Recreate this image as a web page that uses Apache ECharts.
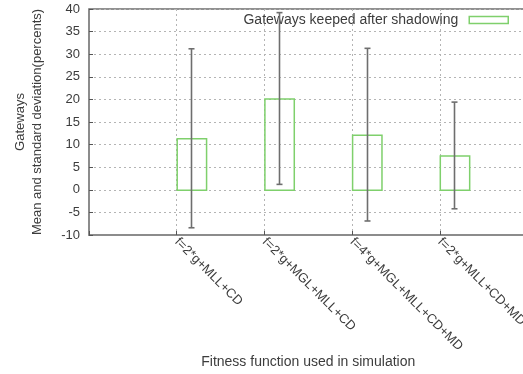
<!DOCTYPE html>
<html>
<head>
<meta charset="utf-8">
<script src="https://cdn.jsdelivr.net/npm/echarts@6/dist/echarts.min.js"></script>
<style>
html,body{margin:0;padding:0;background:#fff;}
#chart{width:523px;height:374px;}
</style>
</head>
<body>
<div id="chart"></div>
<script>
var categories = ['f=2*g+MLL+CD', 'f=2*g+MGL+MLL+CD', 'f=4*g+MGL+MLL+CD+MD', 'f=2*g+MLL+CD+MD'];
var means = [11.4, 20.2, 12.2, 7.6];
var stdDevs = [19.8, 19.0, 19.1, 11.8];
var yTicks = [-10, -5, 0, 5, 10, 15, 20, 25, 30, 35, 40];
var seriesName = 'Gateways keeped after shadowing';

var FONT = 'Liberation Sans';
var TXT = '#3c3c3c';
var GREEN = '#7fd06c';
var BOXW = 0.335;

var barData = categories.map(function (c, i) { return [i + 1, means[i]]; });
var errData = categories.map(function (c, i) { return [i + 1, means[i] - stdDevs[i], means[i] + stdDevs[i]]; });

var chart = echarts.init(document.getElementById('chart'), null, {renderer: 'canvas'});
chart.setOption({
  animation: false,
  backgroundColor: '#fff',
  textStyle: {fontFamily: FONT},
  grid: {left: 89, right: -4.5, top: 9, bottom: 139, show: true, borderColor: '#222', borderWidth: 1,
         containLabel: false, outerBoundsMode: 'none'},
  legend: {
    right: 14, top: 13, padding: 0, align: 'right', itemWidth: 39, itemHeight: 7,
    textStyle: {fontFamily: FONT, fontSize: 14, color: TXT, padding: [0, 6, 0, 0]},
    data: [{name: seriesName, icon: 'rect', itemStyle: {color: 'rgba(0,0,0,0)', borderColor: GREEN, borderWidth: 1.5}}]
  },
  xAxis: {
    type: 'value', min: 0, max: 5, interval: 1,
    name: 'Fitness function used in simulation', nameLocation: 'middle', nameGap: 120, nameMoveOverlap: false,
    nameTextStyle: {fontFamily: FONT, fontSize: 14, color: TXT},
    axisLine: {show: true, onZero: false, lineStyle: {color: '#8c8c8c', width: 2}},
    axisTick: {show: true, inside: true, length: 4, lineStyle: {color: '#555'}},
    splitLine: {show: true, lineStyle: {color: '#b4b4b4', type: [2, 3], width: 1}},
    axisLabel: {
      rotate: -45, margin: 5, fontFamily: FONT, fontSize: 13, color: TXT, hideOverlap: false,
      formatter: function (v) { return categories[v - 1] || ''; }
    }
  },
  yAxis: {
    type: 'value', min: yTicks[0], max: yTicks[yTicks.length - 1], interval: yTicks[1] - yTicks[0],
    name: 'Gateways\nMean and standard deviation(percents)', nameLocation: 'middle', nameGap: 43, nameRotate: 90,
    nameMoveOverlap: false,
    nameTextStyle: {fontFamily: FONT, fontSize: 13, color: TXT, lineHeight: 17, align: 'center'},
    axisLine: {show: true, lineStyle: {color: '#8c8c8c', width: 2}},
    axisTick: {show: true, inside: true, length: 4, lineStyle: {color: '#555'}},
    splitLine: {show: true, lineStyle: {color: '#b4b4b4', type: [2, 3], width: 1}},
    axisLabel: {margin: 9, fontFamily: FONT, fontSize: 13, color: TXT}
  },
  series: [
    {
      name: seriesName, type: 'custom', data: barData, z: 3,
      itemStyle: {color: 'rgba(0,0,0,0)', borderColor: GREEN},
      encode: {x: 0, y: 1},
      renderItem: function (params, api) {
        var x = api.value(0), v = api.value(1);
        var p0 = api.coord([x, 0]);
        var p1 = api.coord([x + BOXW, v]);
        return {
          type: 'rect',
          shape: {x: p0[0] + 0.5, y: p1[1] + 0.5, width: p1[0] - p0[0], height: p0[1] - p1[1]},
          style: {fill: 'none', stroke: GREEN, lineWidth: 1.5}
        };
      }
    },
    {
      name: 'err', type: 'custom', data: errData, z: 4,
      encode: {x: 0, y: [1, 2]},
      renderItem: function (params, api) {
        var x = api.value(0) + BOXW / 2;
        var lo = api.coord([x, api.value(1)]);
        var hi = api.coord([x, api.value(2)]);
        var cx = Math.round(lo[0]) + 0.5;
        var style = {stroke: '#6e6e6e', lineWidth: 1.6};
        return {
          type: 'group',
          children: [
            {type: 'line', shape: {x1: cx, y1: lo[1], x2: cx, y2: hi[1]}, style: style},
            {type: 'line', shape: {x1: cx - 3, y1: lo[1], x2: cx + 3, y2: lo[1]}, style: style},
            {type: 'line', shape: {x1: cx - 3, y1: hi[1], x2: cx + 3, y2: hi[1]}, style: style}
          ]
        };
      }
    }
  ]
});
</script>
</body>
</html>
